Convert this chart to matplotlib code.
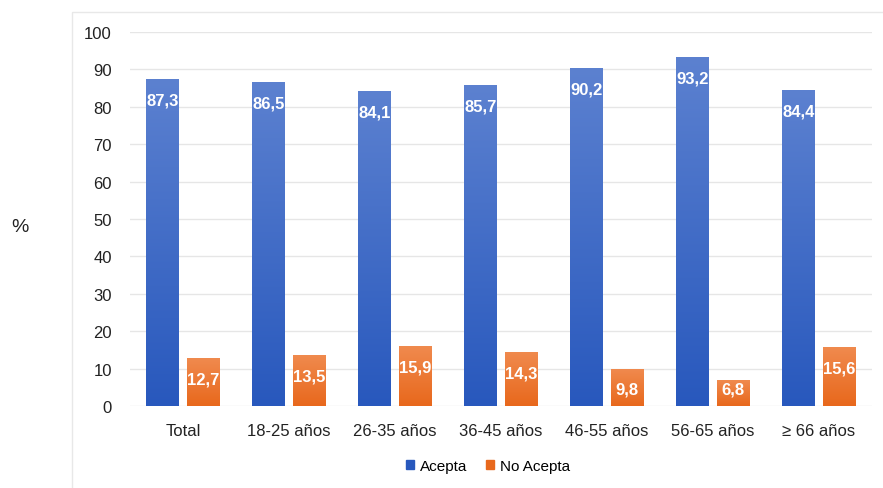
import matplotlib
matplotlib.use("Agg")
import matplotlib.pyplot as plt
import numpy as np
from matplotlib.colors import LinearSegmentedColormap
from matplotlib.patches import Rectangle

plt.rcParams["font.family"] = ["Liberation Sans", "DejaVu Sans"]

categories = ["Total", "18-25 años", "26-35 años", "36-45 años", "46-55 años", "56-65 años", "≥ 66 años"]
acepta = [87.3, 86.5, 84.1, 85.7, 90.2, 93.2, 84.4]
no_acepta = [12.7, 13.5, 15.9, 14.3, 9.8, 6.8, 15.6]

BLUE_TOP, BLUE_BOT = "#5c81d0", "#2858bd"
ORANGE_TOP, ORANGE_BOT = "#f08a4e", "#e8681c"

W, H = 883, 489
fig = plt.figure(figsize=(W / 100, H / 100), dpi=100)
ax = fig.add_axes([130 / W, 1 - 407 / H, 742 / W, 374 / H])

x = np.arange(len(categories))
bw = 0.31
off = 0.19


def grad_bars(xs, vals, top, bot):
    cmap = LinearSegmentedColormap.from_list("g", [bot, top])
    grad = np.linspace(0, 1, 256).reshape(-1, 1)
    bars = ax.bar(xs, vals, width=bw, color="none", zorder=3)
    for b in bars:
        x0, w, h = b.get_x(), b.get_width(), b.get_height()
        ax.imshow(grad, cmap=cmap, origin="lower", aspect="auto",
                  extent=(x0, x0 + w, 0, h), zorder=3, interpolation="bicubic")
    for xi, v in zip(xs, vals):
        ax.text(xi, max(v - 5.5, 4.6), f"{v:.1f}".replace(".", ","), ha="center", va="center",
                color="white", fontsize=12, fontweight="bold", zorder=4)


grad_bars(x - off, acepta, BLUE_TOP, BLUE_BOT)
grad_bars(x + off, no_acepta, ORANGE_TOP, ORANGE_BOT)

ax.set_xlim(-0.5, len(categories) - 0.5)
ax.set_ylim(0, 100)
ax.set_yticks(range(0, 101, 10))
ax.set_xticks(x)
ax.set_xticklabels(categories)
ax.tick_params(length=0, labelsize=12, colors="#222222")
ax.tick_params(axis="y", pad=13)
ax.tick_params(axis="x", pad=12)
ax.grid(axis="y", color="#e6e6e6", linewidth=1, zorder=0)
ax.set_axisbelow(True)
for s in ax.spines.values():
    s.set_visible(False)

fig.text(20 / W, 1 - 228 / H, "%", fontsize=14, color="#222222", ha="center", va="center")

# legend
handles = [Rectangle((0, 0), 1, 1, color=BLUE_BOT), Rectangle((0, 0), 1, 1, color=ORANGE_BOT)]
fig.legend(handles, ["Acepta", "No Acepta"], loc="center", bbox_to_anchor=(488 / W, 1 - 467 / H),
           ncol=2, frameon=False, fontsize=11, handlelength=0.55, handleheight=0.55,
           handletextpad=0.4, columnspacing=1.2)

# outer frame
fig.add_artist(Rectangle((72 / W, -0.1), 1.0, 1 - 13 / H + 0.1, transform=fig.transFigure,
                         fill=False, edgecolor="#e8e8e8", linewidth=1))

fig.savefig("out.png", dpi=100)
